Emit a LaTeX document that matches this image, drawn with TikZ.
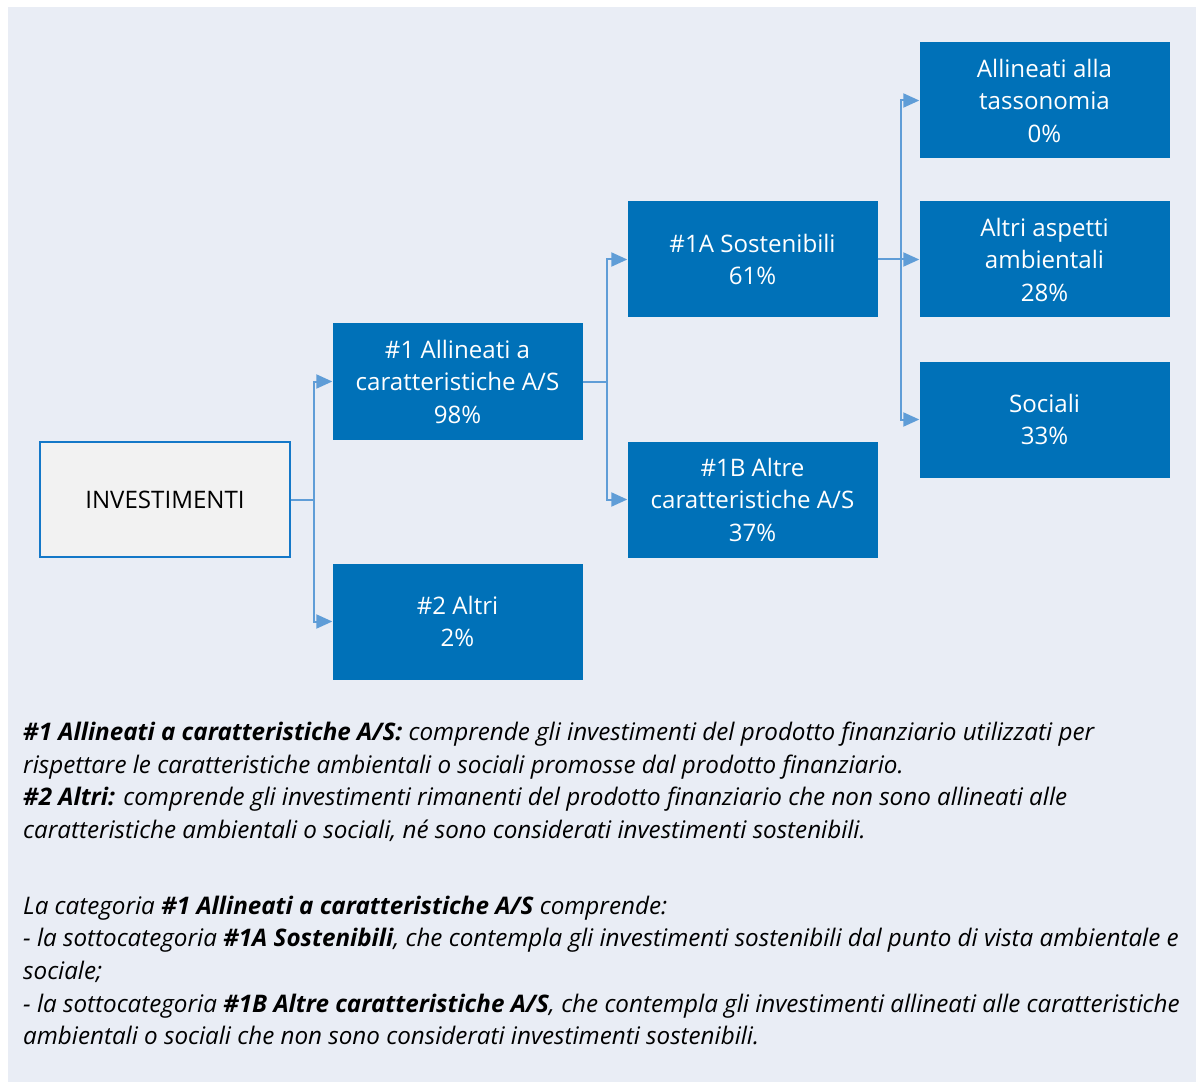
\documentclass[tikz,border=0pt]{standalone}
\usepackage{fontspec}
\setmainfont{Open Sans}
\usetikzlibrary{arrows.meta}
\definecolor{bgc}{RGB}{233,237,245}
\definecolor{boxc}{RGB}{0,113,184}
\definecolor{linec}{RGB}{95,157,215}
\definecolor{invfill}{RGB}{242,242,242}
\definecolor{invline}{RGB}{20,120,200}
\tikzset{
  bluebox/.style={rectangle, fill=boxc, text=white, minimum width=250pt, minimum height=116pt,
    inner sep=0pt, align=center, font=\fontsize{24.1}{32.5}\selectfont},
  invbox/.style={rectangle, fill=invfill, draw=invline, line width=1.2pt, minimum width=250pt, minimum height=115pt,
    inner sep=0pt, align=center, font=\fontsize{24.1}{32.5}\selectfont},
  conn/.style={draw=linec, line width=2pt, -{Triangle[length=16pt,width=14pt]}},
  capline/.style={anchor=base west, inner sep=0pt, font=\fontsize{24.2}{32.7}\selectfont\itshape}
}
\begin{document}
\begin{tikzpicture}[x=1pt,y=-1pt]
\useasboundingbox (0,0) rectangle (1203,1086);
\fill[white] (0,0) rectangle (1203,1086);
\fill[bgc] (8,7) rectangle (1196,1082);
\node[invbox] (inv) at (165,499.5) {INVESTIMENTI};
\node[bluebox] (n1) at (457.5,381.5) {\#1 Allineati a\\caratteristiche A/S\\98\%};
\node[bluebox] (n2) at (457.5,621.5) {\#2 Altri\\2\%};
\node[bluebox] (n1a) at (752.5,259.5) {\#1A Sostenibili\\61\%};
\node[bluebox] (n1b) at (752.5,499.5) {\#1B Altre\\caratteristiche A/S\\37\%};
\node[bluebox] (tax) at (1044.5,100.5) {Allineati alla\\tassonomia\\0\%};
\node[bluebox] (amb) at (1044.5,259.5) {Altri aspetti\\ambientali\\28\%};
\node[bluebox] (soc) at (1044.5,419.5) {Sociali\\33\%};
\draw[conn] (inv.east) -- ([xshift=23pt]inv.east) |- (n1.west);
\draw[conn] (inv.east) -- ([xshift=23pt]inv.east) |- (n2.west);
\draw[conn] (n1.east) -- ([xshift=24pt]n1.east) |- (n1a.west);
\draw[conn] (n1.east) -- ([xshift=24pt]n1.east) |- (n1b.west);
\draw[conn] (n1a.east) -- ([xshift=23pt]n1a.east) |- (tax.west);
\draw[conn] (n1a.east) -- ([xshift=23pt]n1a.east) |- (amb.west);
\draw[conn] (n1a.east) -- ([xshift=23pt]n1a.east) |- (soc.west);
\node[capline] (c1) at (23,740.5) {\textbf{\#1 Allineati a caratteristiche A/S:} comprende gli investimenti del prodotto finanziario utilizzati per};
\node[capline] (c2) at (23,773.2) {rispettare le caratteristiche ambientali o sociali promosse dal prodotto finanziario.};
\node[capline] (c3) at (23,805.8) {\textbf{\#2 Altri:} comprende gli investimenti rimanenti del prodotto finanziario che non sono allineati alle};
\node[capline] (c4) at (23,838.5) {caratteristiche ambientali o sociali, né sono considerati investimenti sostenibili.};
\node[capline] (c5) at (23,914) {La categoria \textbf{\#1 Allineati a caratteristiche A/S} comprende:};
\node[capline] (c6) at (23,946.7) {- la sottocategoria \textbf{\#1A Sostenibili}, che contempla gli investimenti sostenibili dal punto di vista ambientale e};
\node[capline] (c7) at (23,979.3) {sociale;};
\node[capline] (c8) at (23,1012) {- la sottocategoria \textbf{\#1B Altre caratteristiche A/S}, che contempla gli investimenti allineati alle caratteristiche};
\node[capline] (c9) at (23,1044.7) {ambientali o sociali che non sono considerati investimenti sostenibili.};
\end{tikzpicture}
\end{document}
